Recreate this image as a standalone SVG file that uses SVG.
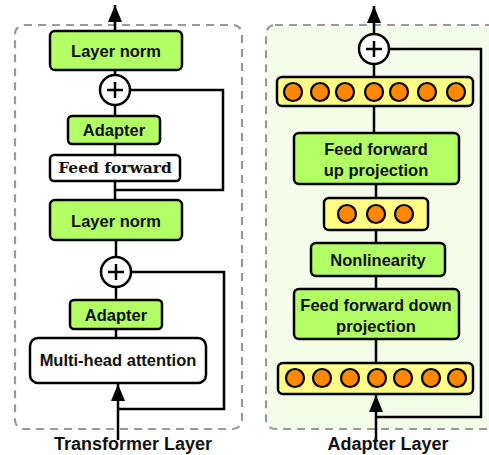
<svg xmlns="http://www.w3.org/2000/svg" width="489" height="455" viewBox="0 0 489 455">
<style>
.panel{stroke:#999;stroke-width:2.2;stroke-dasharray:8,6}
.box{stroke:#000;stroke-width:2.5}
.g{fill:#b3ff66}
.w{fill:#fff}
.bar{fill:#ffff88;stroke:#000;stroke-width:2.5}
.dot{fill:#ff8800;stroke:#000;stroke-width:2.2}
.t{font-family:"Liberation Sans",Arial,sans-serif;font-weight:bold;font-size:16.5px;text-anchor:middle;fill:#111}
.ts{font-family:"DejaVu Serif","Liberation Serif",serif;font-weight:bold;font-size:15.5px;text-anchor:middle;fill:#111}
.lbl{font-family:"Liberation Sans",Arial,sans-serif;font-weight:bold;font-size:18px;text-anchor:middle;fill:#111}
.ln{fill:none;stroke:#000;stroke-width:2.5}
.plus{fill:#fff;stroke:#000;stroke-width:2.5}
</style>
<defs>
<marker id="ah" markerUnits="userSpaceOnUse" markerWidth="18" markerHeight="16" refX="17" refY="8" orient="auto" viewBox="0 0 18 16">
<path d="M0,1 L17,8 L0,15 Z" fill="#000"/>
</marker>
</defs>

<rect id="transformer-panel" class="panel" x="15" y="25" width="227" height="404" rx="9" fill="#fff"/>
<rect id="adapter-panel" class="panel" x="266" y="25" width="232" height="404" rx="9" fill="#f4fdea"/>

<g id="connectors">
<line class="ln" x1="115" y1="31" x2="115" y2="5" marker-end="url(#ah)"/>
<line class="ln" x1="115" y1="70" x2="115" y2="200"/>
<polyline class="ln" points="115,190 223,190 223,90 130,90"/>
<line class="ln" x1="116" y1="240" x2="116" y2="338"/>
<polyline class="ln" points="118,409 224,409 224,272 131,272"/>
<line class="ln" x1="118" y1="440" x2="118" y2="384" marker-end="url(#ah)"/>
<line class="ln" x1="374" y1="34" x2="374" y2="6" marker-end="url(#ah)"/>
<line class="ln" x1="374" y1="64" x2="374" y2="133"/>
<line class="ln" x1="376" y1="184" x2="376" y2="363"/>
<polyline class="ln" points="376,417 481,417 481,49 389,49"/>
<line class="ln" x1="376" y1="440" x2="376" y2="395" marker-end="url(#ah)"/>
</g>

<g id="layer-norm-top"><rect class="box g" x="50" y="31" width="132" height="39" rx="5"/><text class="t" x="116" y="57">Layer norm</text></g>
<g id="add-top"><circle class="plus" cx="115" cy="90" r="15"/><path class="ln" d="M107,90 H123 M115,82 V98"/></g>
<g id="adapter-top"><rect class="box g" x="68" y="116" width="92" height="28" rx="4"/><text class="t" x="114" y="136">Adapter</text></g>
<g id="feed-forward"><rect class="box w" x="50" y="155" width="130" height="26" rx="4"/><text class="ts" x="115" y="173">Feed forward</text></g>
<g id="layer-norm-bottom"><rect class="box g" x="50" y="200" width="132" height="40" rx="5"/><text class="t" x="116" y="227">Layer norm</text></g>
<g id="add-bottom"><circle class="plus" cx="116" cy="272" r="15"/><path class="ln" d="M108,272 H124 M116,264 V280"/></g>
<g id="adapter-bottom"><rect class="box g" x="70" y="300" width="92" height="29" rx="4"/><text class="t" x="116" y="321">Adapter</text></g>
<g id="mha"><rect class="box w" x="30" y="338" width="176" height="45" rx="8"/><text class="t" x="118" y="366">Multi-head attention</text></g>
<text class="lbl" x="133" y="450">Transformer Layer</text>

<g id="add-adapter"><circle class="plus" cx="374" cy="49" r="15"/><path class="ln" d="M366,49 H382 M374,41 V57"/></g>
<g id="top-bar"><rect class="bar" x="277" y="77" width="196" height="29" rx="5"/>
<circle class="dot" cx="293" cy="92" r="9"/><circle class="dot" cx="320" cy="92" r="9"/><circle class="dot" cx="345" cy="92" r="9"/><circle class="dot" cx="374" cy="92" r="9"/><circle class="dot" cx="399" cy="92" r="9"/><circle class="dot" cx="427" cy="92" r="9"/><circle class="dot" cx="456" cy="92" r="9"/></g>
<g id="ff-up"><rect class="box g" x="294" y="133" width="165" height="51" rx="5"/><text class="t" x="376" y="155">Feed forward</text><text class="t" x="376" y="176">up projection</text></g>
<g id="mid-bar"><rect class="bar" x="324" y="198" width="104" height="32" rx="5"/>
<circle class="dot" cx="347" cy="214" r="9"/><circle class="dot" cx="376" cy="214" r="9"/><circle class="dot" cx="404" cy="214" r="9"/></g>
<g id="nonlinearity"><rect class="box g" x="311" y="243" width="134" height="33" rx="5"/><text class="t" x="378" y="266">Nonlinearity</text></g>
<g id="ff-down"><rect class="box g" x="294" y="289" width="165" height="50" rx="5"/><text class="t" x="376" y="311">Feed forward down</text><text class="t" x="376" y="332">projection</text></g>
<g id="bottom-bar"><rect class="bar" x="278" y="363" width="195" height="31" rx="5"/>
<circle class="dot" cx="295" cy="378" r="9"/><circle class="dot" cx="322" cy="378" r="9"/><circle class="dot" cx="350" cy="378" r="9"/><circle class="dot" cx="377" cy="378" r="9"/><circle class="dot" cx="403" cy="378" r="9"/><circle class="dot" cx="431" cy="378" r="9"/><circle class="dot" cx="457" cy="378" r="9"/></g>
<text class="lbl" x="388" y="450">Adapter Layer</text>
</svg>
